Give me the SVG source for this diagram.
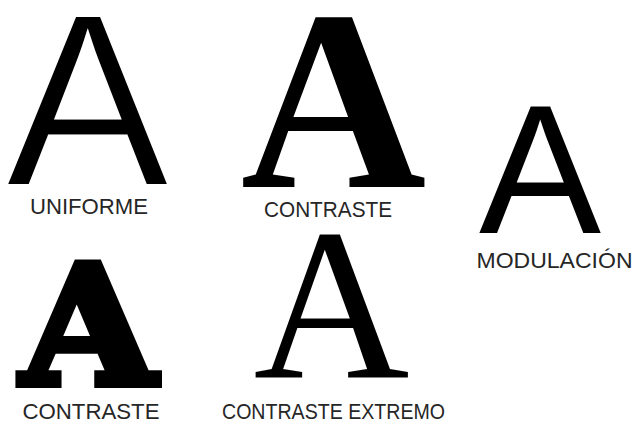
<svg xmlns="http://www.w3.org/2000/svg" width="634" height="423" viewBox="0 0 634 423">
<style>
.big{fill:#000;text-anchor:middle}
.lbl{font-family:"Liberation Sans",Arial,sans-serif;font-size:22px;fill:#262626;text-anchor:middle}
</style>
<rect width="634" height="423" fill="#fff"/>
<g id="uniforme">
<text class="big" x="87.5" y="186" font-family="'Liberation Sans',Arial,sans-serif" font-size="246" stroke="#fff" stroke-width="3">A</text>
<text class="lbl" x="89" y="214" textLength="118" lengthAdjust="spacingAndGlyphs">UNIFORME</text>
</g>
<g id="contraste1">
<text class="big" x="333.5" y="187" font-family="'Liberation Serif','Times New Roman',serif" font-weight="bold" font-size="257">A</text>
<text class="lbl" x="328" y="217" textLength="128" lengthAdjust="spacingAndGlyphs">CONTRASTE</text>
</g>
<g id="modulacion">
<text class="big" x="540" y="233" font-family="'Liberation Sans',Arial,sans-serif" font-size="183">A</text>
<text class="lbl" x="554.5" y="268" textLength="156" lengthAdjust="spacingAndGlyphs">MODULACIÓN</text>
</g>
<g id="contraste2">
<text class="big" transform="translate(88.5 384) scale(1.06 1)" x="0" y="0" font-family="'DejaVu Serif',serif" font-weight="bold" font-size="164" stroke="#000" stroke-width="8" stroke-linejoin="miter">A</text>
<text class="lbl" x="91" y="419" textLength="137" lengthAdjust="spacingAndGlyphs">CONTRASTE</text>
</g>
<g id="contraste-extremo">
<text class="big" x="331.5" y="377" font-family="'Liberation Serif','Times New Roman',serif" font-size="216">A</text>
<text class="lbl" x="333.5" y="419" textLength="223" lengthAdjust="spacingAndGlyphs">CONTRASTE EXTREMO</text>
</g>
</svg>
